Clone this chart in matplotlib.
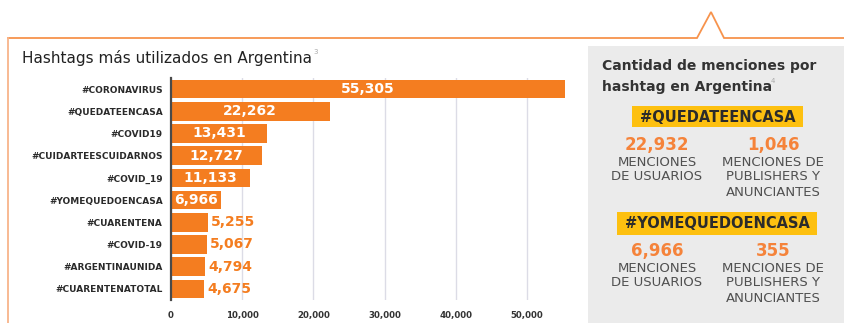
import matplotlib.pyplot as plt
from matplotlib.patches import Rectangle
import numpy as np

# hashtags mas usados y cantidad de menciones
hashtags = ['#CORONAVIRUS', '#QUEDATEENCASA', '#COVID19', '#CUIDARTEESCUIDARNOS',
            '#COVID_19', '#YOMEQUEDOENCASA', '#CUARENTENA', '#COVID-19',
            '#ARGENTINAUNIDA', '#CUARENTENATOTAL']
menciones = [55305, 22262, 13431, 12727, 11133, 6966, 5255, 5067, 4794, 4675]
x_ticks = [0, 10000, 20000, 30000, 40000, 50000]

# panel derecho
panel_tags = ['#QUEDATEENCASA', '#YOMEQUEDOENCASA']
menciones_usuarios = [22932, 6966]
menciones_publishers = [1046, 355]

NARANJA = '#f47d20'
W, H = 845, 323

fig = plt.figure(figsize=(W / 100, H / 100), dpi=100)

# capa de fondo en pixeles
bg = fig.add_axes([0, 0, 1, 1], zorder=0)
bg.set_xlim(0, W)
bg.set_ylim(H, 0)
bg.axis('off')

bg.plot([8, 697, 711, 724, W], [38, 38, 12, 38, 38], color='#f7934c', lw=1.3,
        solid_joinstyle='miter')
bg.plot([8, 8], [38, H], color='#f8b48a', lw=1.3)
bg.add_patch(Rectangle((588, 46), W - 588, H - 46, color='#ebebeb', lw=0))

bg.text(22, 58, 'Hashtags más utilizados en Argentina', fontsize=11,
        color='#222222', va='center', ha='left')
bg.text(313, 52, '3', fontsize=5, color='#aaaaaa', va='center', ha='left')

bg.text(602, 66, 'Cantidad de menciones por', fontsize=10, fontweight='bold',
        color='#333333', va='center', ha='left')
bg.text(602, 87, 'hashtag en Argentina', fontsize=10, fontweight='bold',
        color='#333333', va='center', ha='left')
bg.text(771, 81, '4', fontsize=5, color='#aaaaaa', va='center', ha='left')

cajas = [(632, 106, 171, 21), (617, 212, 200, 23)]
y_num = [145, 251]
for tag, caja, yn, mu, mp in zip(panel_tags, cajas, y_num,
                                 menciones_usuarios, menciones_publishers):
    x0, y0, w, h = caja
    bg.add_patch(Rectangle((x0, y0), w, h, color='#fdc010', lw=0))
    bg.text(x0 + w / 2, y0 + h / 2 + 0.5, tag, fontsize=10.5, fontweight='bold',
            color='#2b2b2b', ha='center', va='center')
    bg.text(657, yn, f'{mu:,}', fontsize=12, fontweight='bold',
            color='#f5833a', ha='center', va='center')
    bg.text(773, yn, f'{mp:,}', fontsize=12, fontweight='bold',
            color='#f5833a', ha='center', va='center')
    for i, linea in enumerate(['MENCIONES', 'DE USUARIOS']):
        bg.text(657, yn + 17 + 15 * i, linea, fontsize=9.5, color='#505050',
                ha='center', va='center')
    for i, linea in enumerate(['MENCIONES DE', 'PUBLISHERS Y', 'ANUNCIANTES']):
        bg.text(773, yn + 17 + 15 * i, linea, fontsize=9.5, color='#505050',
                ha='center', va='center')

# grafico de barras
ax = fig.add_axes([171 / W, 1 - 300 / H, (570 - 171) / W, (300 - 78) / H], zorder=1)
ax.set_facecolor('none')
y = np.arange(len(hashtags))
ax.barh(y, menciones, height=0.83, color=NARANJA, zorder=2)
ax.set_ylim(len(hashtags) - 0.5, -0.5)
ax.set_xlim(0, 56000)
ax.set_yticks(y)
ax.set_yticklabels(hashtags, fontsize=6.5, fontweight='bold', color='#2a2a2a')
ax.set_xticks(x_ticks)
ax.set_xticklabels([f'{t:,}' for t in x_ticks], fontsize=6.2, fontweight='bold',
                   color='#333333')
ax.tick_params(length=0)
ax.tick_params(axis='y', pad=6)
ax.tick_params(axis='x', pad=8)
ax.grid(axis='x', color='#dcdce6', lw=1, zorder=0)
for s in ['top', 'right', 'bottom']:
    ax.spines[s].set_visible(False)
ax.spines['left'].set_color('#4a4a4a')
ax.spines['left'].set_linewidth(1.6)
ax.spines['left'].set_zorder(3)

for yi, v in zip(y, menciones):
    if v > 6000:
        ax.text(v / 2, yi, f'{v:,}', color='white', fontsize=10, fontweight='bold',
                ha='center', va='center', zorder=4)
    else:
        ax.text(v + 400, yi, f'{v:,}', color=NARANJA, fontsize=10,
                fontweight='bold', ha='left', va='center', zorder=4)

fig.savefig('out.png', dpi=100)
